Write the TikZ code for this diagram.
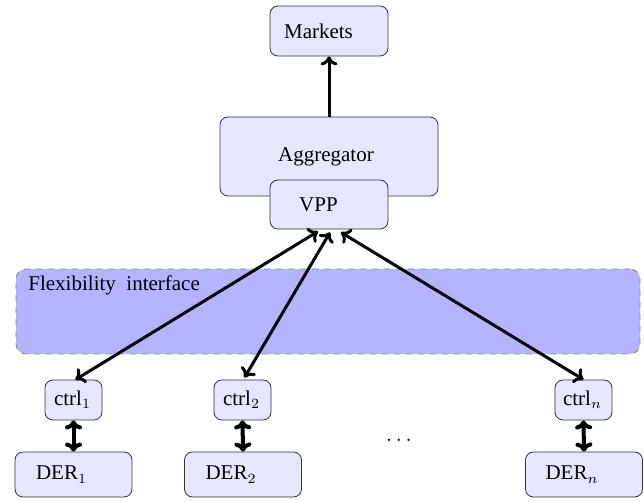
\documentclass[tikz,border=0pt]{standalone}
\usepackage{fontspec}
\setmainfont{Liberation Serif}
\usetikzlibrary{arrows.meta}
\definecolor{boxfill}{HTML}{E6E6FF}
\definecolor{flexfill}{HTML}{B3B3FF}
\begin{document}
\begin{tikzpicture}[x=0.5pt,y=-0.5pt, font=\fontsize{10.5pt}{12pt}\selectfont,
  box/.style={draw=black!80, fill=boxfill, rounded corners=4pt, inner sep=0pt, align=center},
  conn/.style={line width=1.5pt, -{To[length=4.5pt,width=8.5pt]}},
  bconn/.style={line width=1.5pt, {To[length=4.5pt,width=8.5pt]}-{To[length=4.5pt,width=8.5pt]}},
  vconn/.style={line width=2pt, {To[length=4.5pt,width=8.5pt]}-{To[length=4.5pt,width=8.5pt]}}
]
\useasboundingbox (0,0) rectangle (644,502);
% flexibility interface
\node[draw=gray, dashed, fill=flexfill, rounded corners=5pt, minimum width=312pt, minimum height=42.5pt, inner sep=0pt] (flex) at (328,311.5) {};
\node[anchor=west, inner sep=0pt] (flexlabel) at (28,285) {Flexibility\ \ interface};
% top
\node[box, minimum width=59pt, minimum height=25pt] (markets) at (329,31) {Markets\kern10.5pt};
\node[box, minimum width=109pt, minimum height=39.5pt] (agg) at (329,156.5) {Aggregator\kern3pt};
\node[box, minimum width=59pt, minimum height=24.5pt] (vpp) at (329,204.5) {VPP\kern10.5pt};
% ctrls
\node[box, minimum width=28.5pt, minimum height=20pt] (c1) at (73.5,400) {ctrl$_1$\kern1pt};
\node[box, minimum width=28.5pt, minimum height=20pt] (c2) at (242.5,400) {ctrl$_2$\kern1pt};
\node[box, minimum width=28.5pt, minimum height=20pt] (cn) at (583.5,400) {ctrl$_n$\kern1pt};
% DERs
\node[box, minimum width=58.5pt, minimum height=22.5pt] (d1) at (73.5,474.5) {DER$_1$\kern12pt};
\node[box, minimum width=58.5pt, minimum height=22.5pt] (d2) at (243,474.5) {DER$_2$\kern12pt};
\node[box, minimum width=58.5pt, minimum height=22.5pt] (dn) at (584,474.5) {DER$_n$\kern12pt};
\node (dots) at (399,440) {$\dots$};
% connectors
\draw[conn] (agg.north) -- (markets.south);
\draw[bconn] ([xshift=-5.5pt,yshift=-1pt]vpp.south) -- ([xshift=1pt]c1.north);
\draw[bconn] ([xshift=0.5pt,yshift=-1.5pt]vpp.south) -- ([xshift=1pt,yshift=1pt]c2.north);
\draw[bconn] ([xshift=6pt,yshift=-1.5pt]vpp.south) -- (cn.north);
\draw[vconn] (c1.south) -- (d1.north);
\draw[vconn] (c2.south) -- (d2.north);
\draw[vconn] (cn.south) -- (dn.north);
\end{tikzpicture}
\end{document}
